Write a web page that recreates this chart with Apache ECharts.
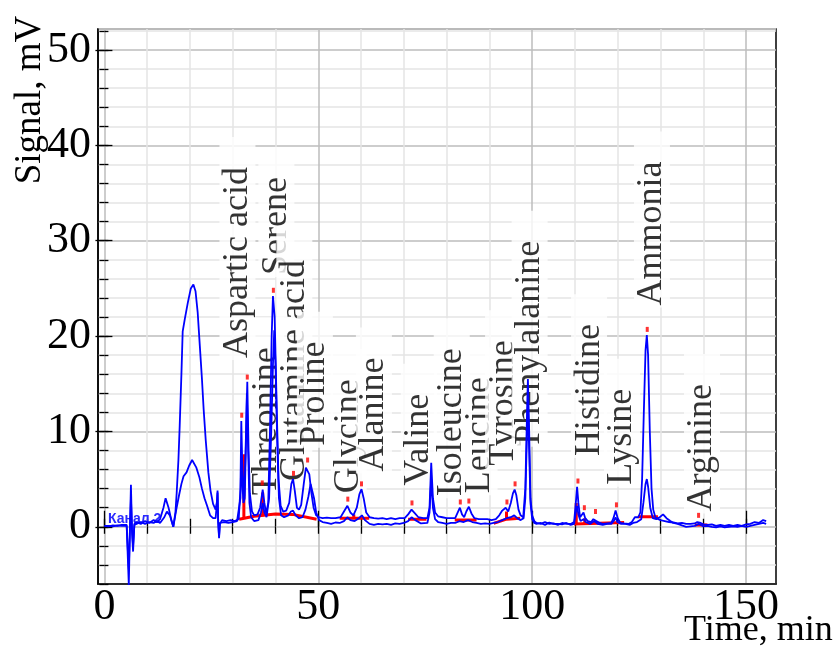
<!DOCTYPE html>
<html>
<head>
<meta charset="utf-8">
<script src="https://cdn.jsdelivr.net/npm/echarts@6/dist/echarts.min.js"></script>
<style>
html,body{margin:0;padding:0;background:#fff;}
#chart{width:838px;height:647px;}
</style>
</head>
<body>
<div id="chart"></div>
<script>
// ---- Trace A (upper channel) ----
const timeA = [0,1,2,3,4,5.2,5.7,6.0,6.2,6.45,6.7,7.0,7.5,8.5,9.5,10.5,11.5,12.3,13.0,13.8,14.3,15.0,15.6,16.1,16.6,16.9,17.3,17.6,18.0,18.3,18.8,19.5,20.2,20.8,21.3,21.8,22.3,22.8,23.2,23.7,24.3,24.8,25.4,26.0,26.3,26.45,26.6,26.8,27.0,27.5,28.5,29.5,30.5,31.4,31.8,32.0,32.2,32.5,32.7,33.0,33.4,33.7,34.0,34.5,35.0,35.8,36.4,37.0,37.4,37.8,38.3,38.7,39.1,39.4,39.8,40.3,40.7,41.2,41.8,42.5,43.2,43.7,44.1,44.5,45.0,45.5,46.0,46.6,47.1,47.5,47.9,48.4,48.9,49.5,50.2,51,52,53,54,55.2,56.0,56.8,57.5,58.2,59.0,59.6,60.1,60.6,61.2,62,63,64,65,66,67,68,69,70.2,71.0,71.8,72.6,73.4,74.5,75.5,76.0,76.4,76.8,77.3,78,79,80,81,82,82.6,83.1,83.6,84.1,84.6,85.2,85.8,86.5,87.5,88.5,89.5,90.5,91.5,92.3,93.0,93.8,94.4,95.0,95.5,95.9,96.3,96.8,97.3,97.9,98.4,98.8,99.0,99.3,99.6,100.0,100.5,101,102,103,104,105,106,107,108,109,109.8,110.2,110.5,110.8,111.2,111.6,112.0,112.4,113.0,113.8,114.3,114.6,115.0,115.8,116.5,117.5,118.5,119.0,119.5,120.0,120.6,121.5,122.5,123.3,124.0,124.4,124.8,125.3,125.7,126.1,126.5,126.8,127.1,127.5,127.9,128.3,128.8,129.5,130.0,131,132,133,134,135,136,137,138,138.6,139.0,139.4,140,141,142,143,144,145,146,147,148,149,150,151,152,153,154,154.7];
const signalA = [0.1,0.05,0.15,0.1,0.2,0.2,-6.1,0.5,4.4,-0.5,-2.6,0.3,0.5,0.3,0.6,0.4,0.7,0.5,0.8,2.0,3.0,2.0,0.8,0.0,1.5,3.6,7.0,10.6,16.0,20.5,21.8,23.5,25.0,25.4,24.7,22.5,19.0,15.5,12.3,9.0,5.7,3.8,2.4,1.8,2.6,3.8,0.5,-1.2,0.3,0.7,0.6,0.7,0.6,0.8,4.0,11.1,7.0,4.0,3.2,8.0,15.2,8.0,3.5,1.6,1.2,1.3,2.0,3.9,2.5,1.4,2.5,10.0,20.0,24.2,22.0,12.0,5.0,2.2,1.6,1.7,2.5,4.5,5.0,3.8,2.0,1.8,2.3,4.5,6.2,6.4,5.5,3.5,2.0,1.2,1.0,0.9,0.95,0.9,0.9,1.0,1.6,2.2,1.5,1.2,2.0,3.4,3.95,3.0,1.5,1.0,0.9,0.85,0.9,0.8,0.9,0.8,0.9,0.9,1.3,1.8,1.4,1.0,0.9,0.9,2.0,6.7,3.0,1.5,1.1,1.0,0.9,0.9,0.9,1.5,2.0,1.3,1.0,1.6,2.1,1.4,0.9,0.8,0.8,0.8,0.7,0.8,1.2,1.7,2.0,1.6,2.5,3.5,3.9,3.3,1.8,1.2,1.0,4.0,12.0,15.5,10.0,3.0,1.2,0.6,0.4,0.3,0.5,0.3,0.35,0.2,0.4,0.3,0.3,0.5,2.5,4.2,2.5,1.0,1.2,1.5,0.9,0.6,0.5,0.8,1.0,0.6,0.4,0.3,0.35,0.4,0.9,1.7,0.9,0.4,0.35,0.3,0.5,1.0,1.15,1.0,1.5,5.0,12.0,18.5,20.1,18.0,10.0,4.0,1.8,1.0,0.8,0.7,0.6,0.5,0.45,0.35,0.4,0.3,0.3,0.35,0.5,0.7,0.4,0.25,0.2,0.25,0.1,0.2,0.1,0.2,0.1,0.2,0.1,0.25,0.3,0.5,0.4,0.7,0.6];

// ---- Trace B (lower channel) ----
const timeB = [0,1,2,3,4,5.2,5.7,6.0,6.2,6.45,6.7,7.0,7.5,8.5,9.5,10.5,11.5,12.3,13.0,14.0,14.6,15.3,16.1,16.8,17.4,18.0,18.5,19.2,19.8,20.5,20.9,21.5,22.2,22.8,23.4,24.0,24.7,25.4,26.0,26.3,26.45,26.6,26.8,27.0,28,29,30,31,31.4,31.8,32.0,32.2,32.5,32.8,33.1,33.3,33.6,33.9,34.3,35,36,36.6,37.0,37.4,37.9,38.5,39.0,39.4,39.7,40.0,40.4,40.8,41.3,42,43,43.6,44.1,44.7,45.5,46.3,47.0,47.7,48.2,48.5,49.0,49.5,50.2,51,52,53,54,55,56,56.8,57.5,58.5,59.5,60.2,60.9,62,63,64,65,66,67,68,69,70,71,71.8,72.7,74,75.5,76.0,76.4,76.8,77.3,78,79,80,81,82,83,84,85,86,87,88,89,90,91,92,93,94,95,95.8,96.5,97.3,98.0,98.4,98.8,99.0,99.3,99.6,100.0,100.5,101,102,103,104,105,106,107,108,109,109.8,110.2,110.5,110.8,111.3,112,112.5,113.5,114.5,115.3,116.5,117.5,118.5,119.2,119.5,119.9,120.8,121.8,122.8,123.6,124.5,125.5,126.0,126.5,126.8,127.1,127.6,128.2,129.0,129.8,130.6,131.4,132.3,133,134,135,136,137,138,139.0,140,141,142,143,144,145,146,147,148,149,150,151,152,153,154,154.7];
const signalB = [0.1,0.1,0.05,0.15,0.1,0.1,-4.5,0.3,3.0,-0.3,-2.0,0.2,0.3,0.5,0.3,0.5,0.4,0.6,0.4,1.0,1.6,1.2,0.0,1.8,3.2,4.5,5.3,5.7,6.4,7.0,6.9,6.2,5.2,4.0,3.0,2.2,1.2,0.9,0.9,2.5,3.6,0.5,-1.0,0.4,0.5,0.4,0.5,0.6,0.5,3.0,7.2,5.0,2.5,3.0,9.0,14.0,8.0,2.5,1.0,0.6,0.7,1.5,2.5,1.5,1.0,3.0,10.0,17.0,20.6,17.0,9.0,3.0,1.2,1.0,1.2,1.6,1.7,1.2,0.9,1.0,1.8,3.2,4.5,4.5,3.0,1.5,0.7,0.5,0.4,0.3,0.45,0.4,0.6,1.0,0.7,0.6,0.9,1.2,0.7,0.3,0.2,0.3,0.25,0.3,0.2,0.35,0.3,0.4,0.6,1.0,0.7,0.35,0.4,1.5,5.0,2.0,0.8,0.5,0.4,0.3,0.4,0.4,0.6,0.5,0.7,0.5,0.4,0.3,0.35,0.3,0.4,0.5,0.7,0.9,1.0,1.2,0.9,0.7,0.9,3.0,10.0,13.0,8.0,2.5,0.8,0.4,0.3,0.4,0.2,0.45,0.3,0.3,0.25,0.4,0.2,0.3,1.5,2.2,1.3,0.6,0.8,0.5,0.3,0.6,0.3,0.2,0.3,0.3,0.7,1.0,0.5,0.3,0.3,0.2,0.4,0.5,0.8,2.5,4.5,5.0,4.2,2.0,0.9,0.8,1.0,1.3,0.9,0.6,0.4,0.3,0.15,0.0,0.05,0.1,0.3,0.05,0.1,0.0,-0.05,0.05,-0.05,0.0,0.05,0.0,0.1,0.0,0.1,0.2,0.3,0.4,0.3];

// ---- Integration baselines (red), null = gap ----
const baseT = [31.5,35,40,44,49.6,null,55.0,61.9,null,71.0,75.3,null,81.9,87.0,null,91.0,94.0,97.2,null,109.8,121.5,null,124.7,129.4,null,138.0,141.0];
const baseV = [0.8,1.1,1.35,1.3,0.8,null,0.9,0.9,null,0.8,0.8,null,0.7,0.7,null,0.35,0.8,0.9,null,0.3,0.45,null,1.05,1.05,null,0.2,0.2];
// ---- Peak drop lines (red) ----
const dropT = [32.6,32.6,null,37.0,37.0,null,58.3,58.3,null,94.0,94.0,null,110.3,110.3,null,112.3,112.3];
const dropV = [0.9,7.6,null,1.1,3.6,null,0.9,1.3,null,0.8,1.6,null,0.3,2.5,null,0.35,0.9];
// ---- Peak apex markers (red) ----
const dotT = [32.1,33.4,36.9,39.5,44.2,47.5,56.9,60.1,71.9,83.2,85.2,94.1,96.0,110.7,112.2,114.8,119.7,126.9,138.9];
const dotV = [11.7,15.7,4.6,24.8,5.6,7.0,2.9,4.5,2.5,2.6,2.7,2.6,4.5,4.8,2.0,1.6,2.3,20.7,1.2];
// ---- Peak names ----
const peakNames = ['Aspartic acid','Threonine','Serene','Glutamine acid','Proline','Glycine','Alanine','Valine','Isoleucine','Leucine','Tyrosine','Phenylalanine','Histidine','Lysine','Ammonia','Arginine'];
const peakLabelT = [31.1,37.8,40.2,44.4,49.2,57.1,63.0,73.5,81.2,87.7,93.2,99.4,113.3,121.0,128.0,139.7];
const peakLabelV = [17.5,3.1,26.2,4.6,8.3,3.3,5.6,4.1,3.0,3.3,6.2,8.4,7.2,4.2,23.0,1.4];
// ---- Axis ticks ----
const xMinorTicks = [0,10,20,30,40,50,60,70,80,90,100,110,120,130,140,150];
const xMajorTicks = [0,50,100,150];
const yMinorTicks = [-6,-4,-2,0,2,4,6,8,10,12,14,16,18,20,22,24,26,28,30,32,34,36,38,40,42,44,46,48,50,52];
const yMajorTicks = [0,10,20,30,40,50];

const pairs = (ts, vs) => ts.map((t, i) => t === null ? ['-', '-'] : [t, vs[i]]);

const X_MIN = -1.5, X_MAX = 157, Y_MIN = -6, Y_MAX = 52.2;
const SERIF = '"Liberation Serif", "Times New Roman", serif';

// split-line colour cycles (fine interval, only 10-min / 2-mV lines visible)
const xSplitColors = [];
for (let i = 0; i < 100; i++) {
  const v = X_MIN + 0.5 * i;
  const r50 = ((v % 50) + 50) % 50, r10 = ((v % 10) + 10) % 10;
  xSplitColors.push(Math.abs(r50) < 1e-9 ? '#bdbdbd' : (Math.abs(r10) < 1e-9 ? '#e4e4e4' : 'rgba(0,0,0,0)'));
}
const ySplitColors = [];
for (let i = 0; i < 5; i++) {
  const v = Y_MIN + 2 * i;
  ySplitColors.push((((v % 10) + 10) % 10) === 0 ? '#bdbdbd' : '#e4e4e4');
}

function xAx(extra) {
  return Object.assign({
    type: 'value', min: X_MIN, max: X_MAX, gridIndex: 0,
    axisLine: { show: false }, axisTick: { show: false }, axisLabel: { show: false },
    splitLine: { show: false }
  }, extra);
}
function yAx(extra) {
  return Object.assign({
    type: 'value', min: Y_MIN, max: Y_MAX, gridIndex: 0,
    axisLine: { show: false }, axisTick: { show: false }, axisLabel: { show: false },
    splitLine: { show: false }
  }, extra);
}

const chart = echarts.init(document.getElementById('chart'), null, { renderer: 'canvas' });
const option = {
  animation: false,
  backgroundColor: '#fff',
  grid: { left: 98, right: 62, top: 29, bottom: 63, show: true, borderColor: '#000', borderWidth: 1.5, backgroundColor: 'rgba(0,0,0,0)' },
  xAxis: [
    xAx({ position: 'bottom', interval: 0.5,
      axisLine: { show: true, onZero: false, lineStyle: { color: '#000', width: 1.5 } },
      splitLine: { show: true, lineStyle: { color: xSplitColors, width: 1.5 } } }),
    xAx({ position: 'bottom',
      axisTick: { show: true, inside: false, length: 7, customValues: xMinorTicks, lineStyle: { color: '#000', width: 1.3 } },
      axisLabel: { show: true, customValues: xMajorTicks, margin: 1, color: '#000', fontFamily: SERIF, fontSize: 44 } }),
    xAx({ position: 'top',
      axisTick: { show: true, inside: false, length: 8, customValues: xMinorTicks, lineStyle: { color: '#000', width: 1.3 } } }),
    xAx({ position: 'top',
      axisTick: { show: true, inside: false, length: 16, customValues: xMajorTicks, lineStyle: { color: '#000', width: 1.3 } } })
  ],
  yAxis: [
    yAx({ position: 'left', interval: 2,
      axisLine: { show: true, onZero: false, lineStyle: { color: '#000', width: 1.5 } },
      splitLine: { show: true, lineStyle: { color: ySplitColors, width: 1.5 } } }),
    yAx({ position: 'left',
      axisTick: { show: true, inside: false, length: 5, customValues: yMinorTicks, lineStyle: { color: '#000', width: 1.3 } } }),
    yAx({ position: 'left',
      axisTick: { show: true, inside: false, length: 9, customValues: yMajorTicks, lineStyle: { color: '#000', width: 1.3 } },
      axisLabel: { show: true, customValues: yMajorTicks, margin: 7, color: '#000', fontFamily: SERIF, fontSize: 44 } }),
    yAx({ position: 'right',
      axisTick: { show: true, inside: false, length: 4, customValues: yMinorTicks, lineStyle: { color: '#000', width: 1.3 } } }),
    yAx({ position: 'right',
      axisTick: { show: true, inside: false, length: 8, customValues: yMajorTicks, lineStyle: { color: '#000', width: 1.3 } } })
  ],
  series: [
    {
      name: 'labels', type: 'scatter', xAxisIndex: 0, yAxisIndex: 0, z: 2,
      symbolSize: 0, silent: true,
      data: peakNames.map((n, i) => ({ value: [peakLabelT[i], peakLabelV[i]], name: n })),
      label: {
        show: true, position: 'top', distance: 0, rotate: 90, align: 'left', verticalAlign: 'middle',
        formatter: p => p.name, color: '#000', fontFamily: SERIF, fontSize: 36,
        backgroundColor: '#fff', padding: [0, 30, 0, 2]
      }
    },
    {
      name: 'baseline', type: 'line', z: 3, xAxisIndex: 0, yAxisIndex: 0,
      data: pairs(baseT, baseV), showSymbol: false, connectNulls: false,
      lineStyle: { color: '#ff0000', width: 3 }
    },
    {
      name: 'drops', type: 'line', z: 3, xAxisIndex: 0, yAxisIndex: 0,
      data: pairs(dropT, dropV), showSymbol: false, connectNulls: false,
      lineStyle: { color: '#ff0000', width: 3 }
    },
    {
      name: 'channelB', type: 'line', z: 4, xAxisIndex: 0, yAxisIndex: 0,
      data: pairs(timeB, signalB), showSymbol: false,
      lineStyle: { color: '#0000ff', width: 1.8 }
    },
    {
      name: 'channelA', type: 'line', z: 4, xAxisIndex: 0, yAxisIndex: 0,
      data: pairs(timeA, signalA), showSymbol: false,
      lineStyle: { color: '#0000ff', width: 1.8 }
    },
    {
      name: 'apex', type: 'scatter', z: 5, xAxisIndex: 0, yAxisIndex: 0,
      symbol: 'rect', symbolSize: [3, 5],
      itemStyle: { color: '#ff0000' },
      data: pairs(dotT, dotV)
    }
  ],
  graphic: [
    { type: 'text', x: 30, y: 100, rotation: Math.PI / 2, z: 10,
      style: { text: 'Signal, mV', fontFamily: SERIF, fontSize: 37, fill: '#000', align: 'center', verticalAlign: 'middle' } },
    { type: 'text', x: 684, y: 631, z: 10,
      style: { text: 'Time, min', fontFamily: SERIF, fontSize: 36, fill: '#000', align: 'left', verticalAlign: 'middle' } },
    { type: 'text', x: 108, y: 519, z: 3,
      style: { text: 'Канал 2', fontFamily: 'Arial, "Liberation Sans", sans-serif', fontSize: 14, fontWeight: 'bold', fill: '#2a2aff', align: 'left', verticalAlign: 'middle' } }
  ]
};
chart.setOption(option);
</script>
</body>
</html>
